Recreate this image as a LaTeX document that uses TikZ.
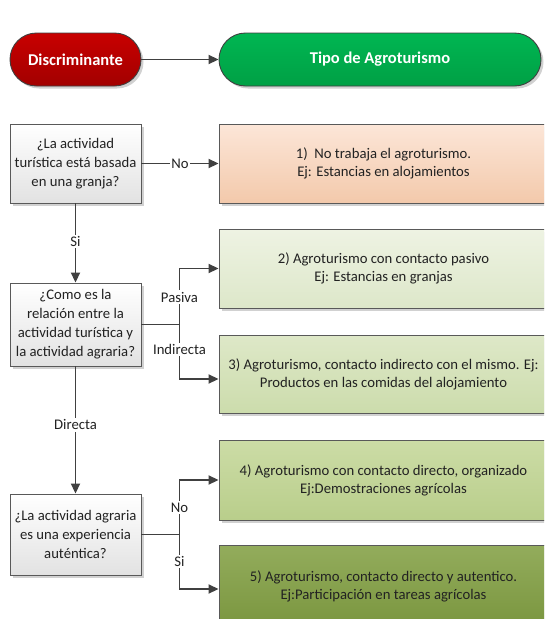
\documentclass[tikz,border=0pt]{standalone}
\usepackage{fontspec}
\setmainfont{Carlito}
\usetikzlibrary{arrows.meta,shadows,calc}
\definecolor{linec}{HTML}{404040}
\definecolor{txtc}{HTML}{222222}
\definecolor{boxline}{HTML}{595959}
\definecolor{redtop}{HTML}{C80000}
\definecolor{redbot}{HTML}{A20000}
\definecolor{grtop}{HTML}{00B652}
\definecolor{grbot}{HTML}{00A045}
\definecolor{qtop}{HTML}{FFFFFF}
\definecolor{qbot}{HTML}{E2E2E2}
\definecolor{ronetop}{HTML}{FCE6D8}
\definecolor{ronebot}{HTML}{F3C9AB}
\definecolor{rtwotop}{HTML}{EEF3E3}
\definecolor{rtwobot}{HTML}{DDE7C9}
\definecolor{rthreetop}{HTML}{DEE8C8}
\definecolor{rthreebot}{HTML}{CCDCAC}
\definecolor{rfourtop}{HTML}{CCDCA6}
\definecolor{rfourbot}{HTML}{B9CE8B}
\definecolor{rfivetop}{HTML}{93AC5C}
\definecolor{rfivebot}{HTML}{7A963F}
\tikzset{
  shad/.style={drop shadow={opacity=0.18,shadow xshift=2.5pt,shadow yshift=-2.5pt,fill=black}},
  pill/.style={rectangle,rounded corners=26.5pt,draw=linec,line width=0.9pt,minimum height=53pt,
    text=white,font=\fontsize{16.5}{20}\selectfont\bfseries,shad},
  qbox/.style={rectangle,draw=boxline,line width=0.9pt,top color=qtop,bottom color=qbot,
    minimum width=131pt,align=center,text=txtc,inner sep=0pt,
    font=\fontsize{14.7}{19}\selectfont,shad},
  rbox/.style={rectangle,draw=boxline,line width=0.9pt,minimum width=329pt,align=center,
    text=txtc,inner sep=0pt,font=\fontsize{14.7}{18}\selectfont,shad},
  conn/.style={draw=linec,line width=1.8pt,-{Triangle[length=10pt,width=9pt]}},
  plain/.style={draw=linec,line width=1.8pt},
  lbl/.style={fill=white,inner sep=1.5pt,text=txtc,font=\fontsize{14.7}{17}\selectfont}
}
\begin{document}
\begin{tikzpicture}[x=1pt,y=-1pt]
\useasboundingbox (0,0) rectangle (544,619);
\fill[white] (0,0) rectangle (544,619);
\clip (0,0) rectangle (544,619);
% header
\node[pill,minimum width=131pt,top color=redtop,bottom color=redbot] (disc) at (75.5,59.5) {Discriminante};
\node[pill,minimum width=322pt,top color=grtop,bottom color=grbot] (tipo) at (380,59.5) {Tipo de Agroturismo};
% questions
\node[qbox,minimum height=79pt] (q1) at (75.5,163.5) {¿La actividad\\turística está basada\\en una granja?};
\node[qbox,minimum height=83pt] (q2) at (75.5,324.5) {¿Como es la\\relación entre la\\actividad turística y\\la actividad agraria?};
\node[qbox,minimum height=81pt] (q3) at (75.5,534.5) {¿La actividad agraria\\es una experiencia\\auténtica?};
% results
\node[rbox,minimum height=79pt,top color=ronetop,bottom color=ronebot] (r1) at (383.5,163.5) {1)\ \ No trabaja el agroturismo.\\Ej: Estancias en alojamientos};
\node[rbox,minimum height=79pt,top color=rtwotop,bottom color=rtwobot] (r2) at (383.5,268.5) {2) Agroturismo con contacto pasivo\\Ej: Estancias en granjas};
\node[rbox,minimum height=78pt,top color=rthreetop,bottom color=rthreebot] (r3) at (383.5,374) {3) Agroturismo, contacto indirecto con el mismo. Ej:\\Productos en las comidas del alojamiento};
\node[rbox,minimum height=80pt,top color=rfourtop,bottom color=rfourbot] (r4) at (383.5,480) {4) Agroturismo con contacto directo, organizado\\Ej:Demostraciones agrícolas};
\node[rbox,minimum height=82pt,top color=rfivetop,bottom color=rfivebot] (r5) at (383.5,586) {5) Agroturismo, contacto directo y autentico.\\Ej:Participación en tareas agrícolas};
% connectors
\draw[conn] (disc) -- (tipo);
\draw[conn] (q1) -- node[lbl] (lno1) {No} (r1);
\draw[conn] (q1) -- node[lbl,pos=0.48] (lsi1) {Si} (q2);
\draw[conn] (q2) -- node[lbl,pos=0.46] (ldir) {Directa} (q3);
\coordinate (j1) at ($(q2.east)+(38,0)$);
\coordinate (a3) at ($(r3.west)+(0,5)$);
\draw[plain] (q2.east) -- (j1);
\draw[conn] (j1) |- (r2);
\draw[conn] (j1) |- (a3);
\path (j1) ++(0,-27.5) node[lbl] (lpas) {Pasiva};
\path (j1) ++(0,25) node[lbl] (lind) {Indirecta};
\coordinate (j2) at ($(q3.east)+(38,0)$);
\coordinate (a5) at ($(r5.west)+(0,3)$);
\draw[plain] (q3.east) -- (j2);
\draw[conn] (j2) |- (r4);
\draw[conn] (j2) |- (a5);
\path (j2) ++(0,-27) node[lbl] (lno2) {No};
\path (j2) ++(0,27) node[lbl] (lsi2) {Si};
\end{tikzpicture}
\end{document}
